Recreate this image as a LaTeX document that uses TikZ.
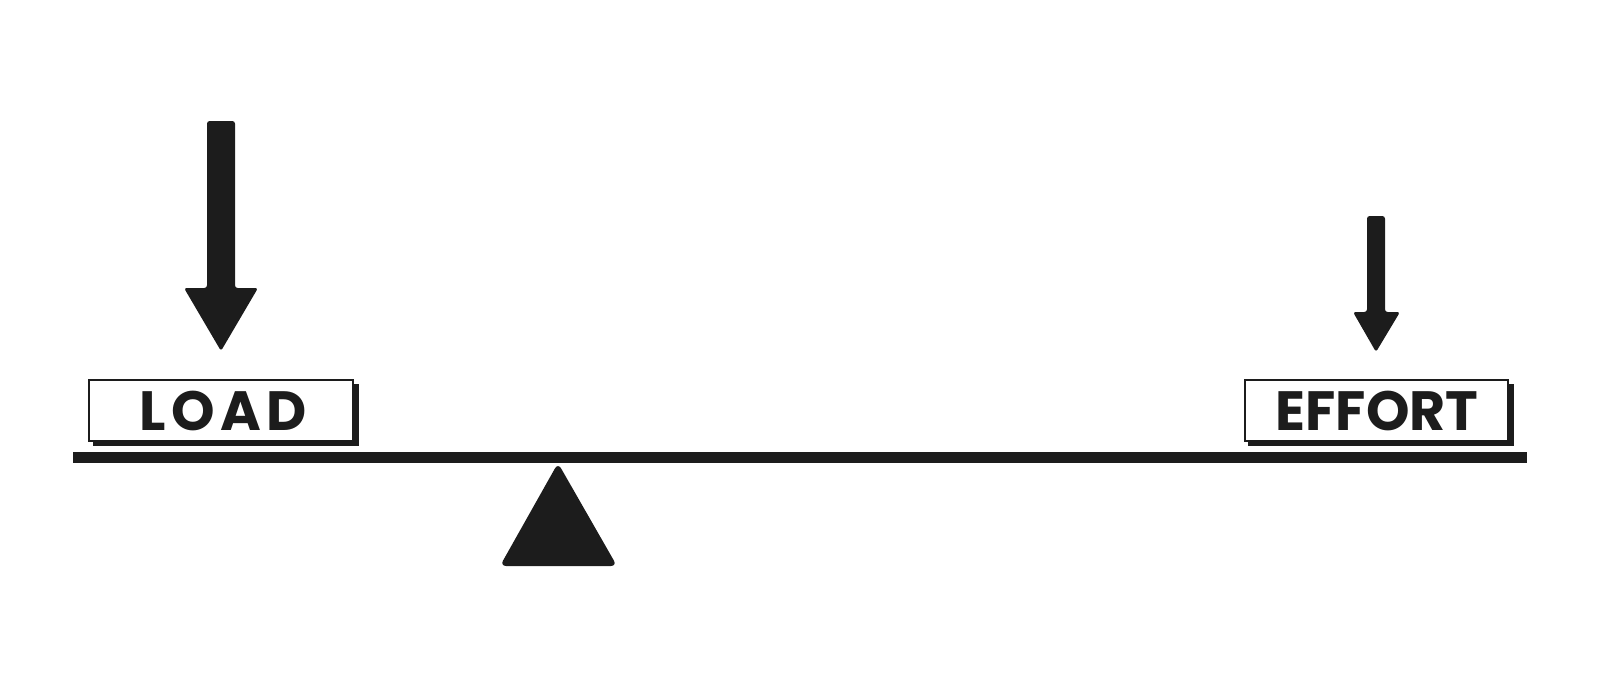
\documentclass[tikz,border=0pt]{standalone}
\usepackage{fontspec}
\setmainfont{Poppins}
\usepackage{tikz}
\definecolor{ink}{HTML}{1C1C1C}

\begin{document}
\begin{tikzpicture}[x=0.02cm,y=-0.02cm,
	tag/.style={text=ink, font=\fontsize{31.5}{31.5}\selectfont\bfseries, inner sep=0pt},
	frame/.style={draw=ink, fill=white, line width=1.4pt},
	shade/.style={fill=ink}]
	\useasboundingbox (0,0) rectangle (1600,676);
	% lever and fulcrum
	\fill[ink] (73,452) rectangle (1527,463);
	\fill[ink, rounded corners=3.5pt] (558,463) -- (617,566) -- (500,566) -- cycle;
	% force arrows
	\fill[ink, rounded corners=1.5pt] (207,121) -- (235,121) -- (235,288) -- (258,288) -- (221,351) -- (184,288) -- (207,288) -- cycle;
	\fill[ink, rounded corners=1.5pt] (1367,216) -- (1385,216) -- (1385,312) -- (1400,312) -- (1376,352) -- (1353,312) -- (1367,312) -- cycle;
	% labels
	\fill[shade] (93,384) rectangle (359,446);
	\draw[frame] (89,380) rectangle (353,441);
	\node[tag] (load) at (223,411) {\addfontfeatures{LetterSpace=10}LOAD};
	\fill[shade] (1248,384) rectangle (1514,446);
	\draw[frame] (1245,380) rectangle (1508,441);
	\node[tag] (effort) at (1377,411) {EFFORT};
\end{tikzpicture}
\end{document}
